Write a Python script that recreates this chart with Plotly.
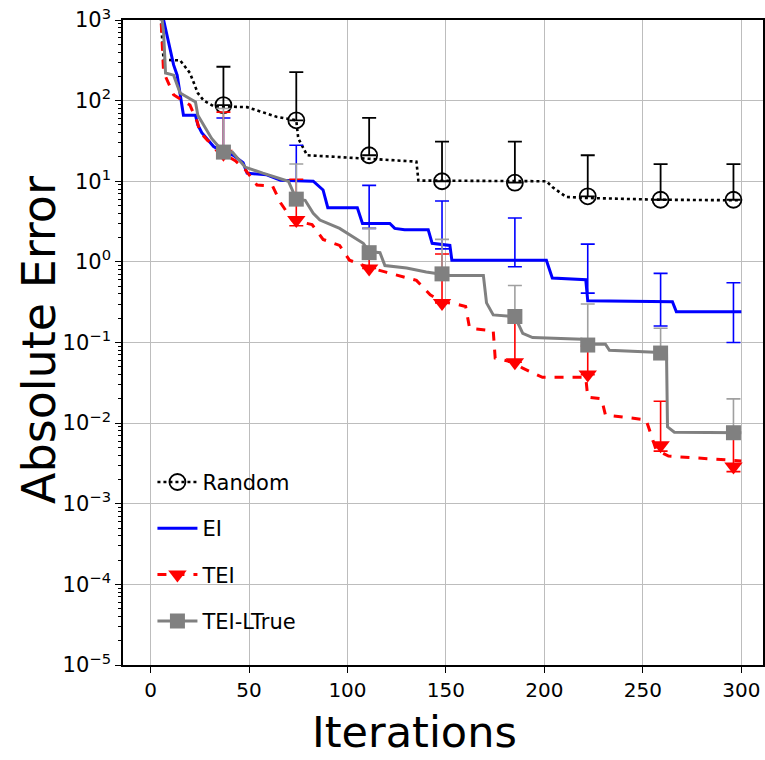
import plotly.graph_objects as go

# ---------------- data ----------------
marker_iters = [37, 74, 111, 148, 185, 222, 259, 296]

random_x = [4, 6.6, 15, 20, 24, 27, 32, 49, 64, 74, 75, 79.5, 111, 135, 136, 201, 204, 211, 222, 259, 300]
random_y = [3000, 320, 316, 220, 124, 100, 85, 83, 63, 57, 34, 21, 19, 17.5, 10.2, 10, 8.5, 6.4, 6.2, 5.9, 5.8]
random_mean = [88, 57, 21, 10, 9.6, 6.5, 5.9, 5.9]
random_upper = [263, 226, 61, 31, 31, 21, 16.3, 16.3]
random_lower = [88, 57, 21, 10, 9.6, 6.5, 5.9, 5.9]

ei_x = [5, 11.7, 13.5, 15, 16.7, 22.8, 24, 26, 32, 37, 42, 47, 49, 59, 66, 82.6, 87.6, 90, 105, 107.6,
        121.5, 124, 129, 141, 143, 152, 153, 201, 204, 221, 222, 265, 267, 300]
ei_y = [1500, 277, 207, 117, 66, 66, 50, 40, 27, 23, 21, 17, 12.6, 12, 10.3, 10, 7.8, 4.7, 4.7, 3.0,
        3.0, 2.6, 2.5, 2.5, 1.7, 1.6, 1.05, 1.05, 0.63, 0.6, 0.33, 0.32, 0.24, 0.24]
ei_mean = [23, 10, 3.0, 1.6, 1.05, 0.6, 0.32, 0.24]
ei_upper = [61, 28, 8.9, 5.7, 3.5, 1.66, 0.72, 0.55]
ei_lower = [23, 10, 2.6, 1.45, 0.87, 0.41, 0.16, 0.10]

tei_x = [5, 6.6, 11.7, 20, 23.8, 25, 29, 34, 37, 43, 48, 54, 62, 66, 72, 82, 87.6, 96, 101, 111, 120,
         135, 142, 148, 155, 160, 162, 174, 175, 184, 189, 199, 221, 222, 229, 231, 251.6, 256.7, 263, 295, 300]
tei_y = [1500, 226, 118, 88, 54, 41, 32, 27, 22, 18, 14, 9, 8.7, 5.4, 3.3, 2.9, 1.9, 1.6, 1.05, 0.85, 0.74,
         0.59, 0.39, 0.32, 0.30, 0.28, 0.15, 0.14, 0.064, 0.057, 0.048, 0.037, 0.037, 0.021, 0.02, 0.0126,
         0.011, 0.0047, 0.0039, 0.0035, 0.0034]
tei_mean = [22, 3.3, 0.83, 0.31, 0.057, 0.04, 0.0053, 0.0029]
tei_upper = [72, 10.6, 1.3, 1.25, 0.2, 0.09, 0.0187, 0.0075]
tei_lower = [22, 2.8, 0.83, 0.31, 0.057, 0.04, 0.0045, 0.0025]

ltrue_x = [5, 6.6, 7.6, 11.7, 15, 18.7, 22.8, 24, 28, 31, 34, 37, 41.5, 44.6, 48, 57, 65, 70, 74, 78.5,
           82.6, 86, 96, 103, 108, 111, 116.5, 119, 130, 140, 148, 152, 169, 170.6, 174, 185, 189, 194,
           219, 222, 231, 233, 259, 262, 262.5, 266, 300]
ltrue_y = [1500, 710, 220, 207, 124, 110, 96, 66, 46, 34, 28, 23, 23, 18.5, 15, 12.6, 11, 10, 6.0, 5.8,
           4.0, 3.3, 2.6, 2.0, 1.7, 1.35, 1.3, 0.9, 0.84, 0.75, 0.71, 0.68, 0.68, 0.31, 0.22, 0.21, 0.13,
           0.115, 0.11, 0.095, 0.095, 0.08, 0.075, 0.075, 0.009, 0.0077, 0.0076]
ltrue_mean = [23, 6.0, 1.3, 0.71, 0.21, 0.093, 0.074, 0.0076]
ltrue_upper = [80, 16.4, 2.6, 1.9, 0.51, 0.30, 0.15, 0.02]
ltrue_lower = [23, 6.0, 1.3, 0.71, 0.21, 0.093, 0.074, 0.0076]

series_names = ["Random", "EI", "TEI", "TEI-LTrue"]
x_ticks = [0, 50, 100, 150, 200, 250, 300]
y_tick_vals = [1e-5, 1e-4, 1e-3, 1e-2, 1e-1, 1e0, 1e1, 1e2, 1e3]
y_tick_text = ["10<sup>−5</sup>", "10<sup>−4</sup>", "10<sup>−3</sup>", "10<sup>−2</sup>",
               "10<sup>−1</sup>", "10<sup>0</sup>", "10<sup>1</sup>", "10<sup>2</sup>", "10<sup>3</sup>"]

# ---------------- figure ----------------
FONT = "DejaVu Sans"
GRAY = "#808080"


def plus(mean, upper):
    return [u - m for m, u in zip(mean, upper)]


def minus(mean, lower):
    return [m - l for m, l in zip(mean, lower)]


fig = go.Figure()

# Random
fig.add_trace(go.Scatter(x=random_x, y=random_y, mode="lines", showlegend=False,
                         line=dict(color="black", width=2.6, dash="dot")))
fig.add_trace(go.Scatter(x=marker_iters, y=random_mean, mode="markers", showlegend=False,
                         marker=dict(symbol="circle-open", size=16, color="black", line=dict(width=1.8)),
                         error_y=dict(type="data", symmetric=False, array=plus(random_mean, random_upper),
                                      arrayminus=minus(random_mean, random_lower),
                                      color="black", thickness=1.8, width=7)))
# EI
fig.add_trace(go.Scatter(x=ei_x, y=ei_y, mode="lines", showlegend=False,
                         line=dict(color="#0000ff", width=3)))
fig.add_trace(go.Scatter(x=marker_iters, y=ei_mean, mode="markers", showlegend=False,
                         marker=dict(size=1, color="rgba(0,0,0,0)"),
                         error_y=dict(type="data", symmetric=False, array=plus(ei_mean, ei_upper),
                                      arrayminus=minus(ei_mean, ei_lower),
                                      color="#0000ff", thickness=1.6, width=7)))
# TEI
fig.add_trace(go.Scatter(x=tei_x, y=tei_y, mode="lines", showlegend=False,
                         line=dict(color="#ff0000", width=3, dash="dash")))
fig.add_trace(go.Scatter(x=marker_iters, y=tei_mean, mode="markers", showlegend=False,
                         marker=dict(symbol="triangle-down", size=16, color="#ff0000"),
                         error_y=dict(type="data", symmetric=False, array=plus(tei_mean, tei_upper),
                                      arrayminus=minus(tei_mean, tei_lower),
                                      color="#ff0000", thickness=1.6, width=7)))
# TEI-LTrue
fig.add_trace(go.Scatter(x=ltrue_x, y=ltrue_y, mode="lines", showlegend=False,
                         line=dict(color=GRAY, width=3)))
fig.add_trace(go.Scatter(x=marker_iters, y=ltrue_mean, mode="markers", showlegend=False,
                         marker=dict(symbol="square", size=15, color=GRAY),
                         error_y=dict(type="data", symmetric=False, array=plus(ltrue_mean, ltrue_upper),
                                      arrayminus=minus(ltrue_mean, ltrue_lower),
                                      color="#a0a0a0", thickness=1.6, width=7)))

# legend entries
legend_styles = [
    dict(line=dict(color="black", width=2.6, dash="dot"),
         marker=dict(symbol="circle-open", size=16, color="black", line=dict(width=1.8))),
    dict(line=dict(color="#0000ff", width=3), marker=dict(size=1, color="rgba(0,0,0,0)")),
    dict(line=dict(color="#ff0000", width=3, dash="dash"),
         marker=dict(symbol="triangle-down", size=16, color="#ff0000")),
    dict(line=dict(color=GRAY, width=3), marker=dict(symbol="square", size=15, color=GRAY)),
]
for name, st in zip(series_names, legend_styles):
    fig.add_trace(go.Scatter(x=[None], y=[None], mode="lines+markers", name=name,
                             legendgroup=name, **st))

fig.update_layout(
    width=765, height=760,
    margin=dict(l=123, r=2, t=20, b=95, autoexpand=False),
    paper_bgcolor="white", plot_bgcolor="white",
    font=dict(family=FONT, size=20, color="black"),
    legend=dict(x=0.046, y=0.315, xanchor="left", yanchor="top",
                bgcolor="rgba(0,0,0,0)", borderwidth=0,
                font=dict(family=FONT, size=21, color="black"),
                traceorder="grouped", tracegroupgap=16, itemwidth=40),
    annotations=[
        dict(text="Iterations", xref="paper", yref="paper", x=(414 - 123) / 640, y=(665 - 732) / 645,
             xanchor="center", yanchor="middle", showarrow=False, borderpad=0,
             font=dict(family=FONT, size=43, color="black")),
        dict(text="Absolute Error", xref="paper", yref="paper", x=(39 - 123) / 640, y=(665 - 340) / 645,
             xanchor="center", yanchor="middle", showarrow=False, textangle=-90,
             font=dict(family=FONT, size=46, color="black")),
    ],
)
fig.update_xaxes(range=[-14, 311], tickmode="array", tickvals=x_ticks, ticktext=[str(v) for v in x_ticks],
                 automargin=False,
                 showgrid=True, gridcolor="#bdbdbd", gridwidth=1.3, zeroline=False,
                 showline=True, linecolor="black", linewidth=1.6, mirror=True,
                 ticks="outside", ticklen=6, tickwidth=1.4, tickcolor="black",
                 tickfont=dict(family=FONT, size=20))
fig.update_yaxes(type="log", range=[-5, 3], tickmode="array", tickvals=y_tick_vals, ticktext=y_tick_text,
                 automargin=False,
                 showgrid=True, gridcolor="#bdbdbd", gridwidth=1.3, zeroline=False,
                 showline=True, linecolor="black", linewidth=1.6, mirror=True,
                 ticks="outside", ticklen=6, tickwidth=1.4, tickcolor="black",
                 tickfont=dict(family=FONT, size=21),
                 minor=dict(ticks="outside", ticklen=3, tickwidth=1, tickcolor="black", dtick="D1",
                            showgrid=False))

fig.write_html("out.html", config={"displayModeBar": False},
               post_script="document.body.style.margin='0';document.body.style.overflow='hidden';")
